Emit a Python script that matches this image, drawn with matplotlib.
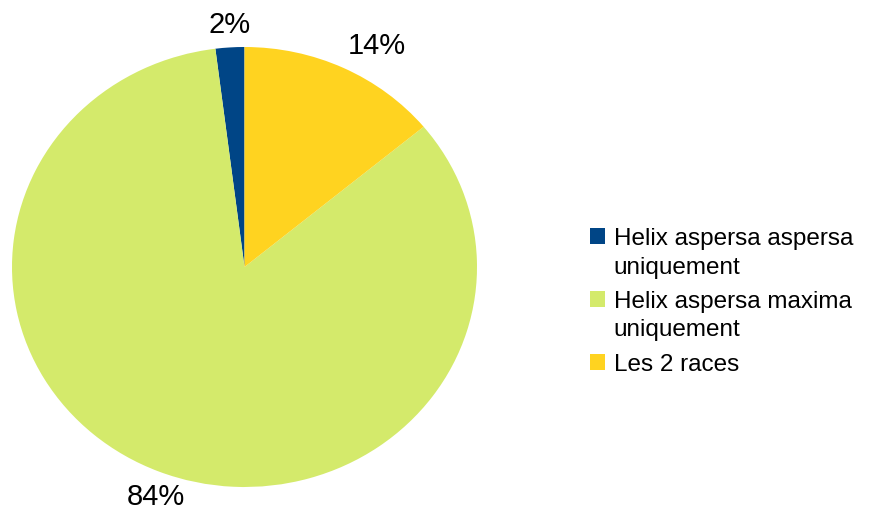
import numpy as np
import matplotlib
matplotlib.use("Agg")
import matplotlib.pyplot as plt
from matplotlib.patches import Rectangle
from matplotlib.legend_handler import HandlerPatch

plt.rcParams['font.family'] = ['Liberation Sans', 'DejaVu Sans']

labels = ["Helix aspersa aspersa\nuniquement", "Helix aspersa maxima\nuniquement", "Les 2 races"]
values = [2, 84, 14]
colors = ["#004586", "#d4ea6b", "#ffd320"]

fig = plt.figure(figsize=(8.77, 5.13), dpi=100)
W, H = 877, 513
# pie is drawn slightly wider than tall in the reference
cx, cy, rx, ry = 244.5, 267, 232.5, 220
ax = fig.add_axes([(cx - rx) / W, (H - cy - ry) / H, 2 * rx / W, 2 * ry / H])

wedges, _ = ax.pie(values, colors=colors, startangle=90, counterclock=True,
                   radius=1, wedgeprops=dict(linewidth=0))
ax.set_xlim(-1, 1)
ax.set_ylim(-1, 1)
ax.set_aspect('auto')
ax.axis('off')

# percentage labels just outside the wedges
total = sum(values)
for w, v in zip(wedges, values):
    ang = np.deg2rad((w.theta1 + w.theta2) / 2)
    c, s = np.cos(ang), np.sin(ang)
    x = 1.04 * c
    y = 1.04 * s if s > 0 else 1.055 * s
    ha = 'center' if abs(c) < 0.4 else ('left' if c > 0 else 'right')
    va = 'bottom' if s > 0 else 'top'
    ax.text(x, y, f"{round(100 * v / total)}%", ha=ha, va=va, fontsize=21,
            clip_on=False)

nlines = {w: lab.count("\n") + 1 for w, lab in zip(wedges, labels)}


def square(legend, orig_handle, xdescent, ydescent, width, height, fontsize):
    # keep the square next to the first line of a wrapped label
    shift = (nlines[orig_handle] - 1) * 0.7 * fontsize
    return Rectangle((-xdescent, -ydescent + shift), width, height)


leg = fig.legend(wedges, labels, loc='upper left',
                 bbox_to_anchor=(590 / W, (H - 228) / H), frameon=False,
                 fontsize=17.5, handlelength=0.62, handleheight=0.62,
                 handletextpad=0.35, labelspacing=0.5, borderpad=0,
                 borderaxespad=0,
                 handler_map={w: HandlerPatch(patch_func=square) for w in wedges})
for t in leg.get_texts():
    t.set_linespacing(1.39)

fig.savefig("out.png", dpi=100)
